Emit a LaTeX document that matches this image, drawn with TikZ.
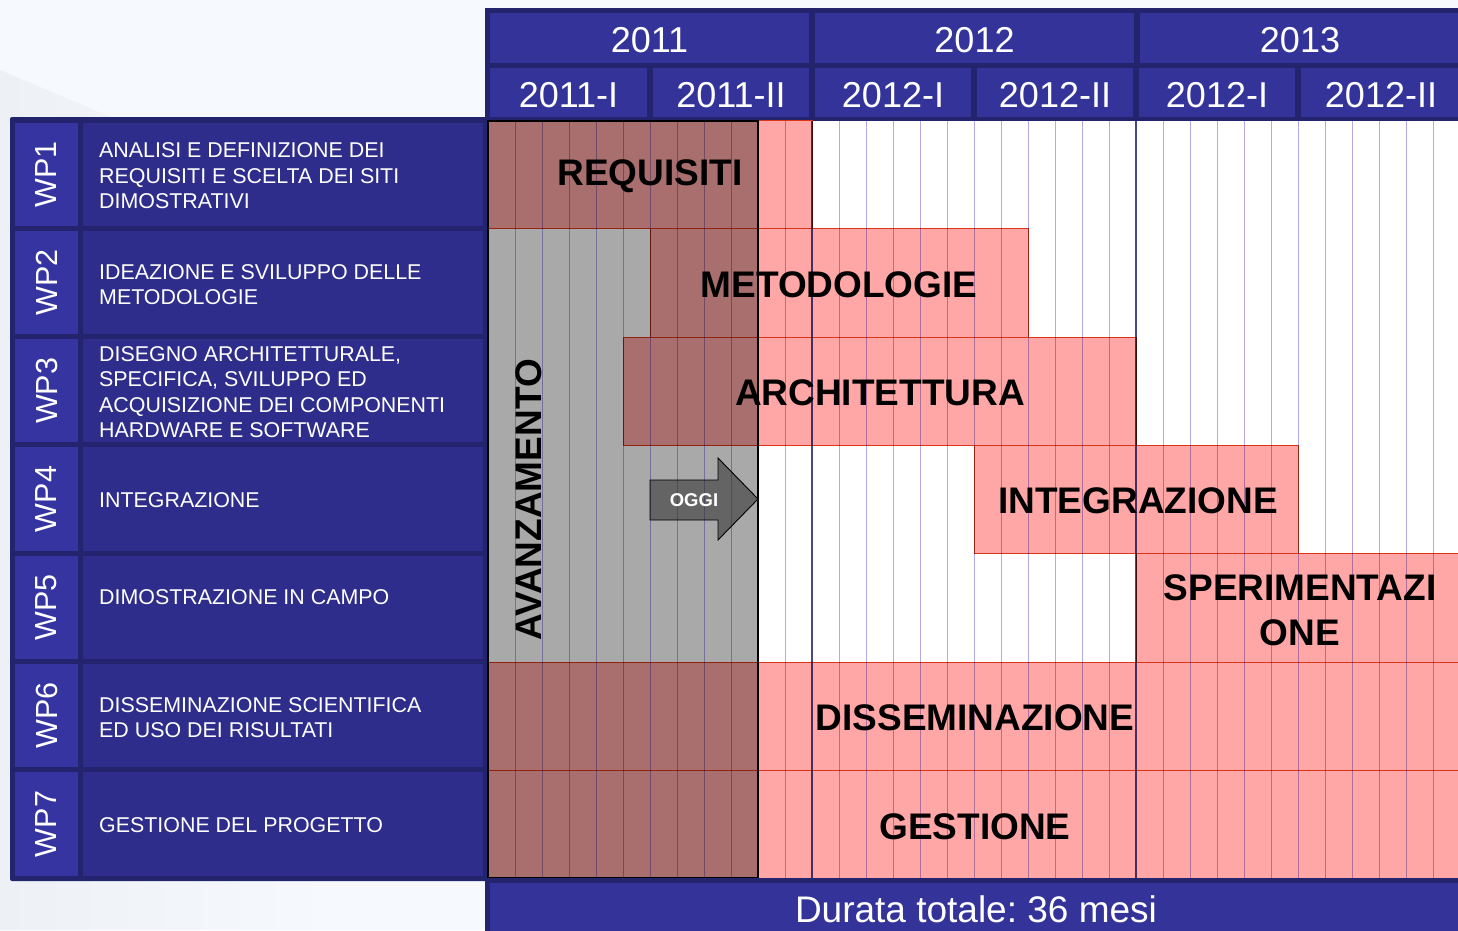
\documentclass[tikz,border=0pt]{standalone}
\usepackage{fontspec}
\setmainfont{Liberation Sans}
\usetikzlibrary{calc}

\definecolor{navyedge}{RGB}{36,35,110}
\definecolor{headfill}{RGB}{52,51,153}
\definecolor{descfill}{RGB}{46,45,139}
\definecolor{wpfill}{RGB}{53,52,160}
\definecolor{barfill}{RGB}{255,166,166}
\definecolor{barline}{RGB}{222,52,22}
\definecolor{monthline}{RGB}{176,172,236}
\definecolor{yearline}{RGB}{72,72,140}
\definecolor{progress}{RGB}{169,169,169}
\definecolor{pagebg}{RGB}{246,249,253}
\definecolor{pageshade}{RGB}{237,241,245}

\newcommand\pxfont[2]{\fontsize{#1}{#2}\selectfont}
\frenchspacing

\begin{document}
\begin{tikzpicture}[x=1pt,y=-1pt,
  headcell/.style={fill=headfill, text=white, inner sep=0, font=\pxfont{36}{40}},
  headtext/.style={text=white, inner sep=0, font=\pxfont{36}{40}},
  wpcell/.style={fill=wpfill, text=white, inner sep=0, rotate=90,
    minimum width=103.3, minimum height=63, font=\pxfont{30.5}{34}},
  desccell/.style={fill=descfill, inner sep=0, minimum width=400, minimum height=103.3},
  desctext/.style={anchor=west, align=left, text=white, inner sep=0, font=\pxfont{21.4}{25.5}},
  bar/.style={fill=barfill, draw=barline, line width=0.9},
  barlabel/.style={align=center, inner sep=0, font=\pxfont{37}{45}\bfseries},
  monthrule/.style={draw=monthline, line width=1},
  yearrule/.style={draw=yearline, line width=1.6}]

\useasboundingbox (0,0) rectangle (1458,930);

% page background
\fill[pagebg] (0,0) rectangle (1458,930);
\shade[left color=pageshade, right color=pagebg] (0,70) -- (330,210) -- (330,930) -- (0,930) -- cycle;

% ---------------- work package panel ----------------
\fill[navyedge, rounded corners=2] (10,117) rectangle (487,881);
\foreach \r/\wp/\txt/\dy in {
  0/WP1/{ANALISI E DEFINIZIONE DEI\\REQUISITI E SCELTA DEI SITI\\DIMOSTRATIVI}/1.5,
  1/WP2/{IDEAZIONE E SVILUPPO DELLE\\METODOLOGIE}/2,
  2/WP3/{DISEGNO ARCHITETTURALE,\\SPECIFICA, SVILUPPO ED\\ACQUISIZIONE DEI COMPONENTI\\HARDWARE E SOFTWARE}/1.5,
  3/WP4/{INTEGRAZIONE}/1.5,
  4/WP5/{DIMOSTRAZIONE IN CAMPO}/-10,
  5/WP6/{DISSEMINAZIONE SCIENTIFICA\\ED USO DEI RISULTATI}/2,
  6/WP7/{GESTIONE DEL PROGETTO}/1.5}{
  \pgfmathsetmacro\cy{174.15+108.3*\r}
  \node[wpcell] (wp\r) at (46.5,\cy) {\wp};
  \node[desccell] (desc\r) at (283,\cy) {};
  \node[desctext] (dtxt\r) at (99,\cy+\dy) {\txt};
}

% ---------------- time header ----------------
\fill[navyedge] (485,8) rectangle (1462,122);
\fill[headfill] (490,13) rectangle (809,63);
\fill[headfill] (815,13) rectangle (1134,63);
\fill[headfill] (1140,13) rectangle (1462,63);
\foreach \a/\b in {490/647, 653/809, 815/971, 977/1133, 1139/1295, 1301/1462}
  \fill[headfill] (\a,68) rectangle (\b,117);
\node[headtext] (y2011) at (649.5,40) {2011};
\node[headtext] (y2012) at (974.5,40) {2012};
\node[headtext] (y2013) at (1300,40) {2013};
\node[headtext] (s1) at (568.5,95) {2011-I};
\node[headtext] (s2) at (731,95) {2011-II};
\node[headtext] (s3) at (893,95) {2012-I};
\node[headtext] (s4) at (1055,95) {2012-II};
\node[headtext] (s5) at (1217,95) {2012-I};
\node[headtext] (s6) at (1381,95) {2012-II};

% ---------------- chart area ----------------
\fill[white] (488,121) rectangle (1462,878);

% activity bars: row / first month / last month
\foreach \r/\a/\b in {0/0/12, 1/6/20, 2/5/24, 3/18/30, 4/24/36, 5/0/36, 6/0/36}
  \filldraw[bar] (488+27*\a, 120.5+108.3*\r) rectangle (488+27*\b, 120.5+108.3*\r+108.3);

% monthly grid and progress overlay, multiplied onto the bars
\begin{scope}[blend mode=multiply]
  \foreach \k in {1,...,11,13,14,...,23,25,26,...,35}
    \draw[monthrule] (488+27*\k,121) -- (488+27*\k,878);
  \foreach \k in {12,24}
    \draw[yearrule] (488+27*\k,121) -- (488+27*\k,878);
  \fill[progress] (488,121) rectangle (758,878);
\end{scope}
\draw[black, line width=1.2] (488,121) rectangle (758,878);

% bar labels
\node[barlabel] (req)  at (650,176)  {REQUISITI};
\node[barlabel] (met)  at (839,285)  {METODOLOGIE};
\node[barlabel] (arch) at (880,393)  {ARCHITETTURA};
\node[barlabel] (integ) at (1138,501) {INTEGRAZIONE};
\node[barlabel] (sper) at (1300,610) {SPERIMENTAZI\\ONE};
\node[barlabel] (diss) at (975,718)  {DISSEMINAZIONE};
\node[barlabel] (gest) at (975,827)  {GESTIONE};

% progress marker
\node[barlabel, rotate=90] (avz) at (529,500) {AVANZAMENTO};
\filldraw[fill={rgb,255:red,45;green,45;blue,45}, fill opacity=0.55, draw=black, line width=0.9]
  (650,480) -- (718,480) -- (718,458) -- (758,499) -- (718,540) -- (718,520) -- (650,520) -- cycle;
\node[text=white, inner sep=0, font=\pxfont{18.5}{20}\bfseries] (oggi) at (694,500) {OGGI};

% ---------------- duration footer ----------------
\fill[navyedge] (485,878) rectangle (1462,935);
\fill[headfill] (490,883) rectangle (1462,935);
\node[headtext, font=\pxfont{37}{40}] (durata) at (976,909) {Durata totale: 36 mesi};

\end{tikzpicture}
\end{document}
